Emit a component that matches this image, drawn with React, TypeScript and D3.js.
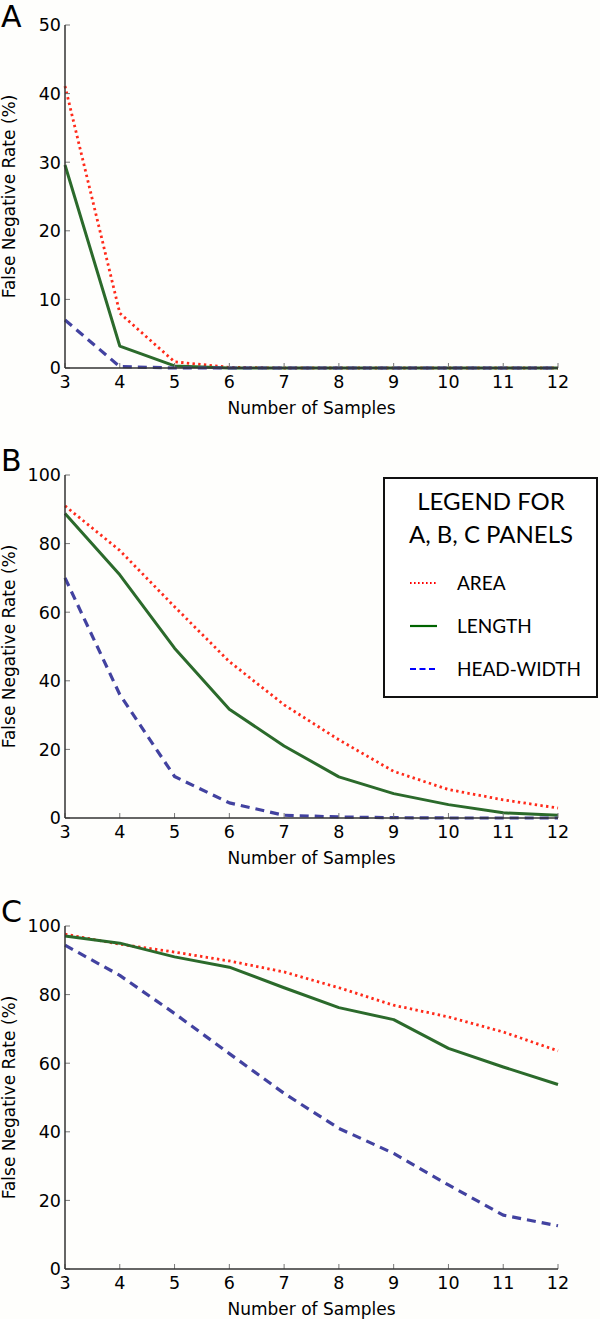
import React from 'react';
import * as d3 from 'd3';

// x values (number of samples)
const samples = [3, 4, 5, 6, 7, 8, 9, 10, 11, 12];

// Panel A
const areaA = [41.1, 8.0, 0.9, 0.1, 0, 0, 0, 0, 0, 0];
const lengthA = [29.6, 3.2, 0.3, 0, 0, 0, 0, 0, 0, 0];
const headA = [7.0, 0.2, 0, 0, 0, 0, 0, 0, 0, 0];

// Panel B
const areaB = [91, 78, 61.6, 45.6, 33, 22.8, 13.6, 8.3, 5.3, 2.9];
const lengthB = [88.8, 70.9, 49.5, 31.7, 21, 12, 7.1, 3.9, 1.5, 0.8];
const headB = [70, 36, 12.1, 4.4, 0.8, 0.3, 0.1, 0, 0, 0];

// Panel C
const areaC = [97.6, 94.7, 92.4, 89.8, 86.6, 82, 76.9, 73.5, 69.1, 63.6];
const lengthC = [97.1, 95, 91, 88, 82, 76.2, 72.7, 64.3, 58.9, 53.8];
const headC = [94.4, 85.6, 74.5, 62.8, 51.2, 41, 33.7, 24.5, 15.7, 12.6];

const ticksA = [0, 10, 20, 30, 40, 50];
const ticksBC = [0, 20, 40, 60, 80, 100];

const legendItems = ['AREA', 'LENGTH', 'HEAD-WIDTH'];

const W = 600;
const H = 1319;
const left = 65;
const right = 558;
const plotH = 343;
const tickFont = '"DejaVu Sans", sans-serif';

const styles = [
  { stroke: '#ff2a1a', dash: '2.4,3.3', width: 2.8 },
  { stroke: '#2b6a2b', dash: null, width: 3 },
  { stroke: '#4242a0', dash: '9,6', width: 3.2 },
];
const legendColors = ['#ff0000', '#006400', '#0000ff'];

interface PanelProps {
  letter: string;
  top: number;
  yMax: number;
  ticks: number[];
  series: number[][];
}

const Panel: React.FC<PanelProps> = ({ letter, top, yMax, ticks, series }) => {
  const x = d3.scaleLinear().domain([3, 12]).range([left, right]);
  const y = d3.scaleLinear().domain([0, yMax]).range([top + plotH, top]);
  const bottom = top + plotH;

  return (
    <g>
      <text x={1} y={top + (letter === 'A' ? 2 : -4)} fontFamily={tickFont} fontSize={30} fill="#000">
        {letter}
      </text>

      {series.map((vals, i) => {
        const line = d3.line<number>()
          .x((_, j) => x(samples[j]))
          .y(d => y(d));
        const s = styles[i];
        return (
          <path
            key={i}
            d={line(vals) || ''}
            fill="none"
            stroke={s.stroke}
            strokeWidth={s.width}
            strokeDasharray={s.dash || undefined}
            strokeLinejoin="round"
          />
        );
      })}

      {/* y ticks (inward) */}
      {ticks.map(t => (
        <g key={'y' + t}>
          <line x1={left} x2={left + 5} y1={y(t)} y2={y(t)} stroke="#777" strokeWidth={1} />
          <text x={61} y={y(t)} dy="0.36em" textAnchor="end" fontFamily={tickFont} fontSize={17.5} fill="#000">
            {t}
          </text>
        </g>
      ))}

      {/* x ticks (inward) */}
      {samples.map(s => (
        <g key={'x' + s}>
          <line x1={x(s)} x2={x(s)} y1={bottom} y2={bottom - 5} stroke="#777" strokeWidth={1} />
          <text x={x(s)} y={bottom + 19.5} textAnchor="middle" fontFamily={tickFont} fontSize={17.5} fill="#000">
            {s}
          </text>
        </g>
      ))}

      {/* spines */}
      <line x1={left} x2={left} y1={top} y2={bottom} stroke="#333" strokeWidth={1.5} />
      <line x1={left} x2={right} y1={bottom} y2={bottom} stroke="#333" strokeWidth={1.5} />

      <text
        x={(left + right) / 2}
        y={bottom + 45.5}
        textAnchor="middle"
        fontFamily={tickFont}
        fontSize={17}
        fill="#000"
      >
        Number of Samples
      </text>
      <text
        transform={`translate(15, ${(top + bottom) / 2}) rotate(-90)`}
        textAnchor="middle"
        fontFamily={tickFont}
        fontSize={17}
        fill="#000"
      >
        False Negative Rate (%)
      </text>
    </g>
  );
};

const Legend: React.FC = () => {
  const ly = d3.scalePoint<string>().domain(legendItems).range([583, 669]);
  const lf = 'Lato, "Open Sans", sans-serif';
  return (
    <g>
      <rect x={384} y={478} width={213} height={219} fill="#fff" stroke="#111" strokeWidth={2} />
      <text x={491} y={510} textAnchor="middle" fontFamily={lf} fontSize={24} fill="#000">LEGEND FOR</text>
      <text x={491} y={543} textAnchor="middle" fontFamily={lf} fontSize={24} fill="#000">A, B, C PANELS</text>
      {legendItems.map((name, i) => (
        <g key={name}>
          <line
            x1={410}
            x2={437}
            y1={ly(name)}
            y2={ly(name)}
            stroke={legendColors[i]}
            strokeWidth={i === 1 ? 2.2 : 1.8}
            strokeDasharray={i === 0 ? '1.6,2.4' : i === 2 ? '6,3.5' : undefined}
          />
          <text x={457} y={(ly(name) || 0) + 6.5} fontFamily={lf} fontSize={19} fill="#000">
            {name}
          </text>
        </g>
      ))}
    </g>
  );
};

const App: React.FC = () => {
  return (
    <svg
      width={W}
      height={H}
      style={{ position: 'absolute', left: 0, top: 0, display: 'block', background: '#fefefc' }}
    >
      <Panel letter="A" top={25} yMax={50} ticks={ticksA} series={[areaA, lengthA, headA]} />
      <Panel letter="B" top={475} yMax={100} ticks={ticksBC} series={[areaB, lengthB, headB]} />
      <Panel letter="C" top={926} yMax={100} ticks={ticksBC} series={[areaC, lengthC, headC]} />
      <Legend />
    </svg>
  );
};

export default App;
